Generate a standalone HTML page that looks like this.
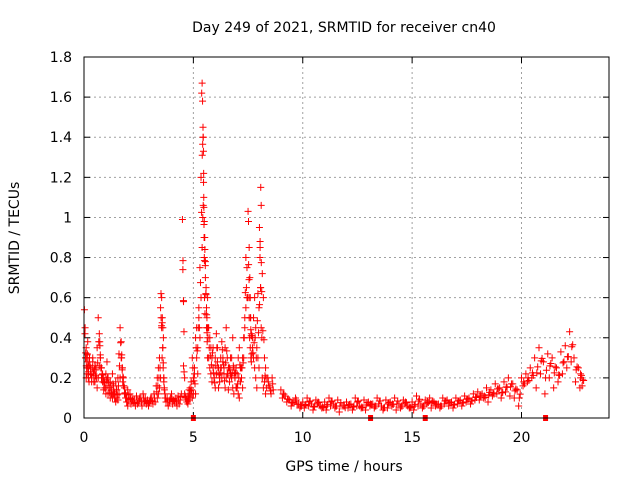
<!DOCTYPE html>
<html><head><meta charset="utf-8"><style>
body{margin:0;background:#fff;}
svg{display:block;font-family:"DejaVu Sans","Liberation Sans",sans-serif;}
</style></head><body>
<svg id="chart" width="640" height="480">
<text x="344" y="32" text-anchor="middle" font-size="14">Day 249 of 2021, SRMTID for receiver cn40</text>
<text x="344" y="471" text-anchor="middle" font-size="14">GPS time / hours</text>
<text transform="translate(19,238) rotate(-90)" text-anchor="middle" font-size="14">SRMTID / TECUs</text>
<g id="grid"></g><g id="ticks"></g><g id="marks"></g>
<rect x="84" y="57" width="525" height="361" fill="none" stroke="#000" stroke-width="1"/>
</svg>
<script>
const xTicks=[0,5,10,15,20];
const yTicks=[0,0.2,0.4,0.6,0.8,1,1.2,1.4,1.6,1.8];
const yTickLabels=["0","0.2","0.4","0.6","0.8","1","1.2","1.4","1.6","1.8"];
const times=[0.02,0.05,0.08,0.1,0.12,0.15,0.18,0.2,0.25,0.3,0.35,0.4,0.45,0.5,0.55,0.6,0.65,0.7,0.72,0.75,0.8,0.85,0.9,0.95,1.0,1.05,1.1,1.15,1.2,1.25,1.3,1.35,1.4,1.45,1.5,1.55,1.6,1.65,1.7,1.72,1.75,1.8,1.85,1.9,1.95,2.0,2.1,2.2,2.3,2.4,2.5,2.6,2.7,2.8,2.9,3.0,3.1,3.2,3.3,3.35,3.4,3.45,3.5,3.52,3.55,3.58,3.6,3.62,3.65,3.7,3.8,3.9,4.0,4.1,4.2,4.3,4.4,4.5,4.52,4.55,4.6,4.65,4.7,4.75,4.8,4.85,4.9,4.95,5.0,5.05,5.1,5.15,5.2,5.25,5.3,5.35,5.38,5.4,5.42,5.44,5.45,5.46,5.48,5.5,5.52,5.55,5.58,5.6,5.62,5.65,5.7,5.75,5.8,5.85,5.9,5.95,6.0,6.05,6.1,6.15,6.2,6.25,6.3,6.35,6.4,6.45,6.5,6.55,6.6,6.65,6.7,6.75,6.8,6.85,6.9,6.95,7.0,7.05,7.1,7.15,7.2,7.25,7.3,7.35,7.4,7.45,7.5,7.52,7.55,7.58,7.6,7.62,7.65,7.7,7.75,7.8,7.85,7.9,7.95,8.0,8.02,8.05,8.08,8.1,8.15,8.2,8.25,8.3,8.4,8.5,8.6,8.7,8.8,8.9];
const valsA=[0.54,0.45,0.3,0.35,0.25,0.32,0.28,0.22,0.3,0.25,0.2,0.28,0.22,0.18,0.25,0.35,0.5,0.42,0.38,0.3,0.25,0.22,0.2,0.18,0.22,0.28,0.2,0.15,0.18,0.14,0.22,0.16,0.12,0.18,0.14,0.2,0.32,0.45,0.38,0.3,0.25,0.2,0.15,0.12,0.1,0.14,0.12,0.1,0.09,0.11,0.08,0.1,0.12,0.1,0.09,0.08,0.1,0.12,0.16,0.2,0.25,0.3,0.55,0.62,0.6,0.5,0.35,0.25,0.18,0.12,0.1,0.08,0.12,0.09,0.1,0.11,0.09,0.99,0.74,0.26,0.12,0.1,0.09,0.11,0.14,0.15,0.18,0.3,0.12,0.22,0.4,0.45,0.35,0.5,0.75,1.2,1.62,1.67,1.58,1.45,1.4,1.33,1.05,0.98,0.9,0.78,0.65,0.55,0.5,0.6,0.45,0.4,0.35,0.3,0.25,0.2,0.3,0.42,0.35,0.25,0.2,0.3,0.38,0.28,0.22,0.35,0.45,0.3,0.25,0.18,0.22,0.3,0.4,0.25,0.2,0.15,0.22,0.3,0.35,0.25,0.2,0.15,0.3,0.45,0.55,0.6,1.03,0.98,0.85,0.7,0.6,0.5,0.42,0.35,0.5,0.6,0.45,0.35,0.3,0.25,0.95,0.85,1.15,1.06,0.72,0.6,0.3,0.25,0.2,0.15,0.2,0.22,0.18,0.2];
const valsB=[0.3,0.2,0.22,0.25,0.38,0.2,0.18,0.3,0.22,0.18,0.3,0.18,0.26,0.24,0.15,0.2,0.26,0.3,0.25,0.2,0.18,0.14,0.15,0.12,0.16,0.12,0.15,0.1,0.12,0.1,0.12,0.1,0.08,0.1,0.09,0.12,0.2,0.3,0.25,0.18,0.16,0.12,0.1,0.08,0.06,0.09,0.07,0.08,0.06,0.07,0.1,0.06,0.08,0.07,0.06,0.1,0.07,0.08,0.1,0.12,0.15,0.2,0.45,0.3,0.35,0.4,0.2,0.15,0.1,0.08,0.06,0.1,0.07,0.08,0.06,0.07,0.12,0.58,0.43,0.2,0.1,0.08,0.07,0.09,0.1,0.12,0.1,0.2,0.25,0.12,0.3,0.22,0.55,0.4,0.6,0.85,1.0,1.06,1.22,0.9,0.8,0.6,0.52,0.7,0.62,0.45,0.38,0.3,0.4,0.3,0.25,0.22,0.18,0.35,0.2,0.15,0.22,0.28,0.15,0.18,0.25,0.2,0.3,0.25,0.15,0.2,0.22,0.14,0.25,0.3,0.2,0.15,0.12,0.2,0.25,0.15,0.12,0.1,0.18,0.25,0.3,0.4,0.5,0.8,0.75,0.6,0.5,0.4,0.35,0.3,0.28,0.32,0.4,0.3,0.25,0.2,0.15,0.62,0.55,0.88,0.65,0.45,0.4,0.2,0.15,0.18,0.12,0.15,0.16,0.12,0.14];
const timesC=[9.0,9.2,9.4,9.6,9.8,10.0,10.2,10.4,10.6,10.8,11.0,11.2,11.4,11.6,11.8,12.0,12.2,12.4,12.6,12.8,13.0,13.2,13.4,13.6,13.8,14.0,14.2,14.4,14.6,14.8,15.0,15.2,15.4,15.6,15.8,16.0,16.2,16.4,16.6,16.8,17.0,17.2,17.4,17.6,17.8,18.0,18.2,18.4,18.6,18.8,19.0,19.2,19.4,19.6,19.8,20.0,20.2,20.4,20.6,20.8,21.0,21.2,21.4,21.6,21.8,22.0,22.2,22.4,22.6,22.7];
const valsC=[0.14,0.11,0.09,0.08,0.07,0.08,0.1,0.07,0.09,0.06,0.08,0.1,0.07,0.09,0.06,0.08,0.07,0.1,0.06,0.09,0.08,0.07,0.1,0.06,0.09,0.08,0.1,0.07,0.09,0.06,0.08,0.11,0.07,0.09,0.1,0.08,0.07,0.1,0.09,0.08,0.1,0.09,0.11,0.1,0.12,0.13,0.12,0.15,0.14,0.17,0.15,0.18,0.2,0.17,0.14,0.2,0.22,0.25,0.3,0.35,0.28,0.32,0.3,0.25,0.33,0.36,0.43,0.3,0.25,0.22];
const valsD=[0.1,0.08,0.06,0.1,0.05,0.05,0.06,0.04,0.07,0.05,0.04,0.06,0.05,0.03,0.06,0.05,0.04,0.06,0.05,0.04,0.06,0.05,0.07,0.04,0.05,0.06,0.04,0.05,0.07,0.05,0.04,0.06,0.05,0.07,0.05,0.06,0.05,0.07,0.06,0.05,0.07,0.06,0.08,0.07,0.09,0.09,0.1,0.08,0.11,0.12,0.1,0.13,0.11,0.1,0.06,0.16,0.18,0.2,0.15,0.22,0.12,0.2,0.15,0.18,0.22,0.25,0.28,0.18,0.15,0.16];
const axisMarks=[5.0,13.1,15.6,21.1];
const X0=84,X1=609,Y0=418,Y1=57,XMAX=24,YMAX=1.8;
const xs=t=>X0+t/XMAX*(X1-X0);
const ys=v=>Y0-v/YMAX*(Y0-Y1);
const NS="http://www.w3.org/2000/svg";
function mk(tag,attrs,parent){const e=document.createElementNS(NS,tag);for(const k in attrs)e.setAttribute(k,attrs[k]);parent.appendChild(e);return e;}
const grid=document.getElementById('grid'),ticks=document.getElementById('ticks'),marks=document.getElementById('marks');
xTicks.forEach(t=>{const x=xs(t);
 if(t>0){const g=mk('line',{x1:x,x2:x,y1:Y1,y2:Y0,stroke:'#a0a0a0','stroke-dasharray':'2,3'},grid);
 
 }
 mk('line',{x1:x,x2:x,y1:Y0,y2:Y0-6,stroke:'#000'},ticks);
 mk('line',{x1:x,x2:x,y1:Y1,y2:Y1+6,stroke:'#000'},ticks);
 const l=mk('text',{x:x,y:Y0+24,'text-anchor':'middle','font-size':14},ticks);l.textContent=t;
 
 });
yTicks.forEach((v,i)=>{const y=ys(v);
 if(i>0&&i<yTicks.length-1){const g=mk('line',{x1:X0,x2:X1,y1:y,y2:y,stroke:'#a0a0a0','stroke-dasharray':'2,3'},grid);
 
 }
 mk('line',{x1:X0,x2:X0+6,y1:y,y2:y,stroke:'#000'},ticks);
 mk('line',{x1:X1,x2:X1-6,y1:y,y2:y,stroke:'#000'},ticks);
 const l=mk('text',{x:X0-12,y:y+5,'text-anchor':'end','font-size':14},ticks);l.textContent=yTickLabels[i];
 
 });
function plus(t,v){if(t==null||v==null)return;const x=xs(t),y=ys(v);
 const p=mk('path',{d:`M${x-3.5},${y}h7M${x},${y-3.5}v7`,stroke:'#ff0000','stroke-width':1,fill:'none'},marks);
 
 }
const nAB=Math.min(times.length,valsA.length,valsB.length);
for(let i=0;i<nAB;i++){const t=times[i];plus(t,valsA[i]);plus(t+0.05,valsB[i]);plus(t+0.025,(valsA[i]+valsB[i])/2);}
const nCD=Math.min(timesC.length,valsC.length,valsD.length);
for(let i=0;i<nCD;i++){const t=timesC[i];plus(t,valsC[i]);plus(t+0.07,valsD[i]);plus(t+0.1,(valsC[i]+valsD[i])/2);plus(t+0.14,valsC[i]*0.85);}
axisMarks.forEach(t=>{const r=mk('rect',{x:xs(t)-2.5,y:Y0-3,width:5,height:6,fill:'#ff0000'},marks);
 
 });
</script>
</body></html>
